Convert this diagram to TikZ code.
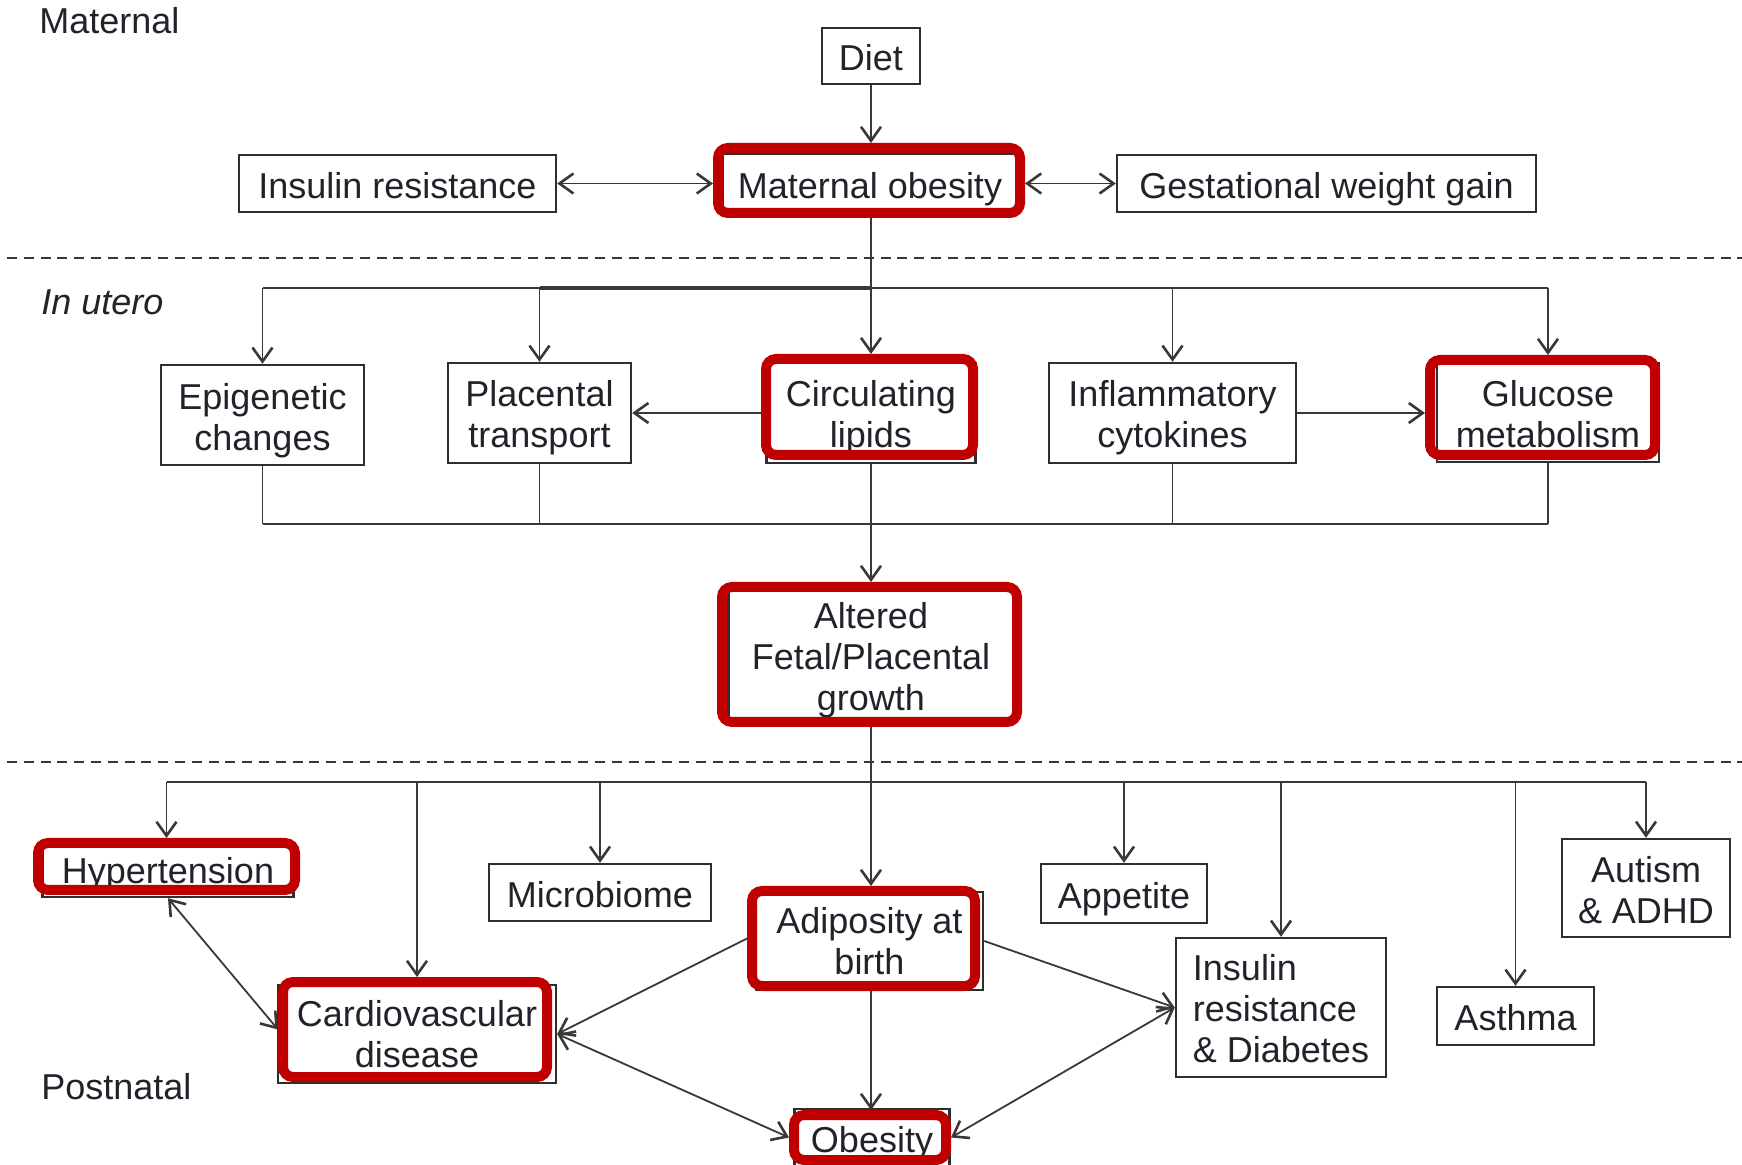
\documentclass[tikz,border=0pt]{standalone}
\usepackage{fontspec}
\setmainfont{Liberation Sans}
\usetikzlibrary{arrows.meta}
\pgfdeclarelayer{bg}
\pgfsetlayers{bg,main}
\definecolor{hlred}{HTML}{C00000}
\definecolor{boxc}{HTML}{2E2E2E}
\definecolor{linec}{HTML}{383838}
\definecolor{txtc}{HTML}{22222A}
\newcommand\tshval{18.5pt}
\newcommand\fl{\rule{0pt}{\tshval}}
\tikzset{
  tsh/.code={\def\tshval{#1}},
  txt/.style={font=\fontsize{18}{20.5}\selectfont, text=txtc},
  bx/.style={txt, draw=boxc, line width=1.2pt, inner sep=0pt, align=center,
    execute at begin node={\fl},
    execute at end node={\rule[-4pt]{0pt}{0pt}}},
  hl/.style={draw=hlred, line width=5pt, rounded corners=5pt, inner sep=0pt},
  ln/.style={draw=linec, line width=0.9pt},
  tip/.tip={Straight Barb[length=7pt,width=10pt,line width=1.3pt]},
  arr/.style={ln, -tip},
  darr/.style={ln, tip-tip},
  dline/.style={draw=linec, line width=1.3pt, dash pattern=on 5pt off 3.4pt},
  lab/.style={txt, anchor=base west, inner sep=0pt}
}
\begin{document}
\begin{tikzpicture}[x=0.5pt,y=-0.5pt]
\useasboundingbox (0,0) rectangle (1742,1165);

% section labels
\node[lab] (lmat) at (39,34) {Maternal};
\node[lab, font=\fontsize{18}{20.5}\selectfont\itshape] (lutero) at (41,315) {In utero};
\node[lab] (lpost) at (41,1099) {Postnatal};

% dashed separators
\draw[dline] (7,258) -- (1742,258);
\draw[dline] (7,762) -- (1742,762);

% maternal boxes
\node[bx, tsh=18.9pt, minimum width=49pt, minimum height=28pt] (diet) at (871,56) {Diet};
\node[bx, tsh=19.1pt, minimum width=158.5pt, minimum height=28.5pt] (ir) at (397.5,183.5) {Insulin resistance};
\node[bx, tsh=19.3pt, minimum width=147.5pt, minimum height=29pt] (mo) at (870,183) {Maternal obesity};
\node[bx, tsh=19.1pt, minimum width=209.5pt, minimum height=28.5pt] (gwg) at (1326.5,183.5) {Gestational weight gain};

% in utero boxes
\node[bx, tsh=18.6pt, minimum width=101.5pt, minimum height=50pt] (epi) at (262.5,415) {\fl Epigenetic\\changes};
\node[bx, tsh=18.4pt, minimum width=91.5pt, minimum height=50pt] (plac) at (539.5,413) {\fl Placental\\transport};
\node[bx, tsh=18.4pt, minimum width=104.5pt, minimum height=50pt] (circ) at (871,413) {\fl Circulating\\lipids};
\node[bx, tsh=18.4pt, minimum width=123.5pt, minimum height=50pt] (infl) at (1172.5,413) {\fl Inflammatory\\cytokines};
\node[bx, tsh=18.7pt, minimum width=111pt, minimum height=49.5pt] (gluc) at (1548,412.5) {\fl Glucose\\metabolism};
\node[bx, tsh=19.3pt, minimum width=142.5pt, minimum height=62.5pt] (alt) at (871,654.5) {\fl Altered\\Fetal/Placental\\growth};

% postnatal boxes
\node[bx, tsh=15.9pt, minimum width=125.5pt, minimum height=25pt] (hyp) at (168,872) {Hypertension};
\node[bx, tsh=18.9pt, minimum width=111pt, minimum height=28.5pt] (micro) at (600,892.5) {Microbiome};
\node[bx, tsh=16.9pt, minimum width=113.5pt, minimum height=49pt] (adip) at (869.5,941) {\fl Adiposity at\\birth};
\node[bx, tsh=18.9pt, minimum width=83pt, minimum height=29.5pt] (app) at (1124,893.5) {Appetite};
\node[bx, tsh=18.9pt, minimum width=84pt, minimum height=49pt] (aut) at (1646,888) {\fl Autism\\\& ADHD};
\node[bx, tsh=17.9pt, minimum width=105pt, minimum height=69.5pt, align=left] (ird) at (1281,1007.5) {\fl Insulin\\resistance\\\& Diabetes};
\node[bx, tsh=18.6pt, minimum width=78.5pt, minimum height=29pt] (asth) at (1515.5,1016) {Asthma};
\node[bx, tsh=17.3pt, minimum width=139pt, minimum height=49pt] (card) at (417,1034) {\fl Cardiovascular\\disease};
\node[bx, tsh=16.9pt, minimum width=77.5pt, minimum height=31pt] (obes) at (872,1140) {Obesity};

% red highlights
\node[hl, minimum width=151pt, minimum height=32.5pt] (mor) at (869,180.5) {};
\node[hl, minimum width=103.5pt, minimum height=48pt] (circr) at (869.5,407) {};
\node[hl, minimum width=112.5pt, minimum height=47.5pt] (glucr) at (1542.5,407.5) {};
\node[hl, minimum width=147.5pt, minimum height=67.5pt] (altr) at (869.5,654.5) {};
\node[hl, minimum width=128.5pt, minimum height=23.5pt] (hypr) at (166.5,866.5) {};
\node[hl, minimum width=111.5pt, minimum height=47.5pt] (adipr) at (863.5,938.5) {};
\node[hl, minimum width=132pt, minimum height=47.5pt] (cardr) at (415,1029.5) {};
\node[hl, minimum width=76pt, minimum height=22.5pt] (obesr) at (870,1137.5) {};

\begin{pgfonlayer}{bg}
% maternal
\draw[arr] (diet.south) -- (diet.south |- mor.north);
\draw[darr] (ir.east) -- (mor.west |- ir.east);
\draw[darr] (mor.east |- gwg.west) -- (gwg.west);

% top bus
\coordinate (b1) at (871,288);
\draw[ln] (mo.south -| b1) -- (b1);
\draw[ln] (epi.north |- b1) -- (gluc.north |- b1);
\draw[ln, line width=2pt] (plac.north |- b1) -- (b1);
\draw[arr] (epi.north |- b1) -- (epi.north);
\draw[arr] (plac.north |- b1) -- (plac.north);
\draw[arr] (b1) -- (b1 |- circr.north);
\draw[arr] (infl.north |- b1) -- (infl.north);
\draw[arr] (gluc.north |- b1) -- (gluc.north |- glucr.north);

% side arrows
\draw[arr] (circ.west) -- (circ.west -| plac.east);
\draw[arr] (infl.east) -- (infl.east -| glucr.west);

% bottom bus
\coordinate (b2) at (871,524);
\draw[ln] (epi.south) -- (epi.south |- b2);
\draw[ln] (plac.south) -- (plac.south |- b2);
\draw[ln] (circ.south) -- (b2);
\draw[ln] (infl.south) -- (infl.south |- b2);
\draw[ln] (gluc.south) -- (gluc.south |- b2);
\draw[ln] (epi.south |- b2) -- (gluc.south |- b2);
\draw[arr] (b2) -- (b2 |- altr.north);

% postnatal bus
\coordinate (b3) at (871,782);
\draw[ln] (alt.south) -- (b3);
\draw[ln] (hypr.north |- b3) -- (aut.north |- b3);
\draw[arr] (hypr.north |- b3) -- (hypr.north);
\draw[arr] (card.north |- b3) -- (card.north |- cardr.north);
\draw[arr] (micro.north |- b3) -- (micro.north);
\draw[arr] (b3) -- (b3 |- adipr.north);
\draw[arr] (app.north |- b3) -- (app.north);
\draw[arr] (ird.north |- b3) -- (ird.north);
\draw[arr] (asth.north |- b3) -- (asth.north);
\draw[arr] (aut.north |- b3) -- (aut.north);

% postnatal relations
\draw[darr] (hyp.south) -- (cardr.west);
\draw[arr] (adipr.west) -- (card.east);
\draw[arr] (adip.east) -- (ird.west);
\draw[arr] (b3 |- adip.south) -- (b3 |- obesr.north);
\draw[darr] (card.east) -- (obesr.west);
\draw[darr] (ird.west) -- (obesr.east);
\end{pgfonlayer}
\end{tikzpicture}
\end{document}
